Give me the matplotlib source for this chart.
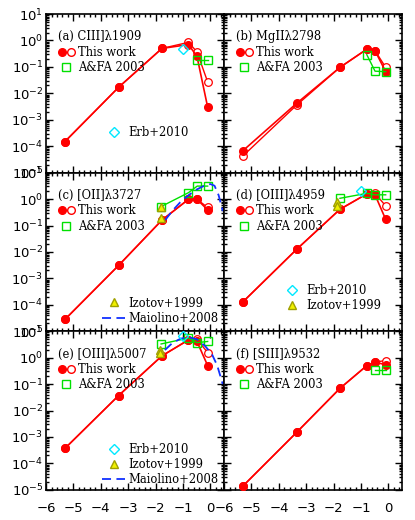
import matplotlib
matplotlib.use('Agg')
import matplotlib.pyplot as plt
from matplotlib.lines import Line2D
from matplotlib.legend_handler import HandlerTuple
from matplotlib.ticker import LogLocator, NullFormatter, MultipleLocator
import numpy as np

# log(Z/Zsun) of the model grid
logz = [-5.31, -3.35, -1.77, -0.80, -0.49, -0.10]

titles = ['(a) CIII]λ1909', '(b) MgIIλ2798', '(c) [OII]λ3727',
          '(d) [OIII]λ4959', '(e) [OIII]λ5007', '(f) [SIII]λ9532']

# this work (filled / open)
fill_a = [1.5e-4, 0.017, 0.50, 0.70, 0.25, 0.003]
open_a = [1.5e-4, 0.017, 0.50, 0.85, 0.37, 0.027]
fill_b = [6.8e-5, 4.2e-3, 0.096, 0.46, 0.41, 0.066]
open_b = [4.3e-5, 3.6e-3, 0.096, 0.46, 0.41, 0.096]
fill_c = [2.8e-5, 3.1e-3, 0.16, 0.98, 0.98, 0.39]
open_c = [2.8e-5, 3.1e-3, 0.16, 0.98, 0.98, 0.48]
fill_d = [1.3e-4, 0.0126, 0.41, 1.55, 1.45, 0.17]
open_d = [1.3e-4, 0.0126, 0.41, 1.55, 1.65, 0.55]
fill_e = [3.7e-4, 0.037, 1.17, 4.7, 4.1, 0.50]
open_e = [3.7e-4, 0.037, 1.17, 4.7, 5.0, 1.55]
fill_f = [1.4e-5, 1.5e-3, 0.069, 0.49, 0.68, 0.54]
open_f = [1.4e-5, 1.5e-3, 0.069, 0.49, 0.68, 0.78]

# A&FA 2003
afa_x_a = [-0.49, -0.10]
afa_y_a = [0.18, 0.18]
afa_x_b = [-0.79, -0.49, -0.10]
afa_y_b = [0.29, 0.069, 0.066]
afa_x_c = [-1.80, -0.80, -0.48, -0.10]
afa_y_c = [0.52, 1.75, 3.1, 3.1]
afa_x_d = [-1.77, -0.79, -0.49, -0.10]
afa_y_d = [1.07, 1.65, 1.45, 1.45]
afa_x_e = [-1.80, -0.81, -0.49, -0.10]
afa_y_e = [3.3, 5.5, 3.7, 4.1]
afa_x_f = [-0.49, -0.10]
afa_y_f = [0.35, 0.35]

# Erb+2010
erb_x_a, erb_y_a = [-1.01], [0.47]
erb_x_d, erb_y_d = [-1.01], [2.1]
erb_x_e, erb_y_e = [-1.01], [6.6]

# Izotov+1999
izo_x_c, izo_y_c = [-1.80, -1.80], [0.49, 0.19]
izo_x_d, izo_y_d = [-1.89, -1.89], [0.75, 0.55]
izo_x_e, izo_y_e = [-1.84, -1.84], [2.0, 1.5]

# Maiolino+2008 curves
mai_x_c = [-1.65, -1.4, -1.1, -0.8, -0.5, -0.2, 0.0, 0.15, 0.3, 0.45]
mai_y_c = [0.16, 0.35, 0.76, 1.4, 2.3, 3.3, 3.7, 3.2, 1.4, 0.35]
mai_x_e = [-1.66, -1.4, -1.1, -0.8, -0.5, -0.2, 0.05, 0.25, 0.45]
mai_y_e = [1.95, 3.5, 5.2, 6.0, 5.0, 2.8, 1.4, 0.5, 0.1]

panels = [
    dict(fill=fill_a, open=open_a, afa=(afa_x_a, afa_y_a), erb=(erb_x_a, erb_y_a)),
    dict(fill=fill_b, open=open_b, afa=(afa_x_b, afa_y_b)),
    dict(fill=fill_c, open=open_c, afa=(afa_x_c, afa_y_c), izo=(izo_x_c, izo_y_c),
         mai=(mai_x_c, mai_y_c)),
    dict(fill=fill_d, open=open_d, afa=(afa_x_d, afa_y_d), erb=(erb_x_d, erb_y_d),
         izo=(izo_x_d, izo_y_d)),
    dict(fill=fill_e, open=open_e, afa=(afa_x_e, afa_y_e), erb=(erb_x_e, erb_y_e),
         izo=(izo_x_e, izo_y_e), mai=(mai_x_e, mai_y_e)),
    dict(fill=fill_f, open=open_f, afa=(afa_x_f, afa_y_f)),
]

RED = '#ff0000'
GREEN = '#00e000'
CYAN = '#00e8ff'
YEL_FACE = '#f0f000'
YEL_EDGE = '#a0a000'
BLUE = '#1030ff'

fig, axes = plt.subplots(3, 2, figsize=(4.15, 5.2), dpi=100, sharex=True, sharey=True)
fig.subplots_adjust(left=0.111, right=0.969, top=0.973, bottom=0.058, wspace=0, hspace=0)

lfont = dict(family='DejaVu Serif', size=8.3)

for k, (ax, p) in enumerate(zip(axes.flat, panels)):
    ax.plot(logz, p['open'], '-o', color=RED, mfc='white', mec=RED, ms=5.5, lw=1.0, mew=0.9, zorder=3)
    ax.plot(logz, p['fill'], '-o', color=RED, ms=5.5, lw=1.2, zorder=4)
    ax.plot(p['afa'][0], p['afa'][1], '-s', color=GREEN, mfc='none', ms=5.5, mew=1.0, lw=1.0, zorder=5)
    if 'mai' in p:
        ax.plot(p['mai'][0], p['mai'][1], color=BLUE, lw=1.3, dashes=(5, 3), zorder=6)
    if 'erb' in p:
        ax.plot(p['erb'][0], p['erb'][1], 'D', color=CYAN, mfc='none', ms=5.5, mew=1.0, zorder=7)
    if 'izo' in p:
        ax.plot(p['izo'][0], p['izo'][1], '^', mfc=YEL_FACE, mec=YEL_EDGE, ms=6, mew=1.0, zorder=7)

    ax.set_yscale('log')
    ax.set_ylim(1e-5, 10)
    ax.set_xlim(-6, 0.5)
    ax.yaxis.set_major_locator(LogLocator(base=10, numticks=20))
    ax.yaxis.set_minor_locator(LogLocator(base=10, subs=np.arange(2, 10), numticks=100))
    ax.yaxis.set_minor_formatter(NullFormatter())
    ax.xaxis.set_major_locator(MultipleLocator(1))
    ax.xaxis.set_minor_locator(MultipleLocator(0.2))
    ax.tick_params(which='both', direction='in', top=True, right=True, width=1.0)
    ax.tick_params(which='major', length=5, labelsize=9.5)
    ax.tick_params(which='minor', length=2.5)
    ax.tick_params(axis='x', pad=9)
    ax.tick_params(axis='y', pad=2)
    for s in ax.spines.values():
        s.set_linewidth(1.2)

    # upper legend
    h_fill = Line2D([], [], marker='o', color=RED, ls='none', ms=5.5)
    h_open = Line2D([], [], marker='o', color=RED, mfc='white', ls='none', ms=5.5)
    h_afa = Line2D([], [], marker='s', color=GREEN, mfc='none', ls='none', ms=5.5)
    leg = ax.legend([(h_fill, h_open), h_afa], ['This work', 'A&FA 2003'],
                    handler_map={tuple: HandlerTuple(ndivide=None, pad=0.0)},
                    title=titles[k], title_fontproperties=lfont, prop=lfont,
                    alignment='left', loc='upper left', bbox_to_anchor=(0.065, 0.897),
                    frameon=False, borderpad=0, borderaxespad=0, handlelength=1.5,
                    handletextpad=0.3, labelspacing=0.2)

    # lower legend
    hs, ls = [], []
    if 'erb' in p:
        hs.append(Line2D([], [], marker='D', color=CYAN, mfc='none', ls='none', ms=5.5))
        ls.append('Erb+2010')
    if 'izo' in p:
        hs.append(Line2D([], [], marker='^', mfc=YEL_FACE, mec=YEL_EDGE, ls='none', ms=6))
        ls.append('Izotov+1999')
    if 'mai' in p:
        hs.append(Line2D([], [], color=BLUE, lw=1.3, dashes=(5, 3)))
        ls.append('Maiolino+2008')
    if hs:
        ax.add_artist(leg)
        top = 0.219 if k == 2 else 0.297
        ax.legend(hs, ls, prop=lfont, loc='upper left', bbox_to_anchor=(0.315, top),
                  frameon=False, borderpad=0, borderaxespad=0, handlelength=2.0,
                  handletextpad=0.3, labelspacing=0.2)

fig.text(0.6, 0.002, r'log(Z/Z$_\odot$)', ha='center', va='top', fontsize=10)

fig.savefig('out.png', dpi=100)
